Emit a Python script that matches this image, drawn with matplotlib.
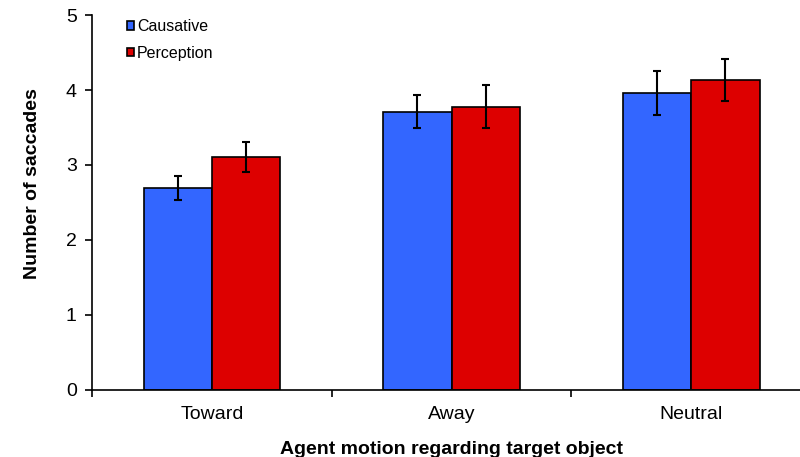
import numpy as np
import matplotlib.pyplot as plt

plt.rcParams['font.family'] = ['Liberation Sans', 'DejaVu Sans']

# data
categories = ["Toward", "Away", "Neutral"]
causative = [2.69, 3.71, 3.96]
causative_err = [0.16, 0.22, 0.29]
perception = [3.11, 3.78, 4.14]
perception_err = [0.20, 0.29, 0.28]

fig = plt.figure(figsize=(8, 4.57), dpi=100)
ax = fig.add_axes([0.115, 0.147, 0.899, 0.82])

x = np.arange(len(categories))
w = 0.285
ax.bar(x - w / 2, causative, w, color='#3366ff', edgecolor='black', linewidth=1.2,
       label='Causative', zorder=2)
ax.bar(x + w / 2, perception, w, color='#dd0000', edgecolor='black', linewidth=1.2,
       label='Perception', zorder=2)
ax.errorbar(x - w / 2, causative, yerr=causative_err, fmt='none', ecolor='black',
            elinewidth=1.5, capsize=3, capthick=1.5, zorder=3)
ax.errorbar(x + w / 2, perception, yerr=perception_err, fmt='none', ecolor='black',
            elinewidth=1.5, capsize=3, capthick=1.5, zorder=3)

ax.set_xlim(-0.5, len(categories) - 0.5)
ax.set_ylim(0, 5)
ax.set_yticks([0, 1, 2, 3, 4, 5])
ax.set_xticks(x)
ax.set_xticklabels(categories)
ax.set_xticks(np.arange(len(categories) + 1) - 0.5, minor=True)
ax.tick_params(axis='x', which='major', length=0, labelsize=14, pad=12)
ax.tick_params(axis='x', which='minor', length=5, width=1.2, direction='out')
ax.tick_params(axis='y', length=5, width=1.2, labelsize=14, pad=6)

for side in ['top', 'right']:
    ax.spines[side].set_visible(False)
ax.spines['left'].set_linewidth(1.2)
ax.spines['bottom'].set_linewidth(1.2)

ax.set_ylabel('Number of saccades', fontsize=14, fontweight='bold')
ax.yaxis.set_label_coords(-0.071, 0.55)
ax.set_xlabel('Agent motion regarding target object', fontsize=14,
              fontweight='bold')
ax.xaxis.set_label_coords(0.5, -0.136)

leg = ax.legend(loc='upper left', bbox_to_anchor=(0.028, 1.027), frameon=False,
                fontsize=11.5, handlelength=0.45, handleheight=0.45,
                handletextpad=0.2, labelspacing=0.7)

fig.savefig('out.png', dpi=100)
